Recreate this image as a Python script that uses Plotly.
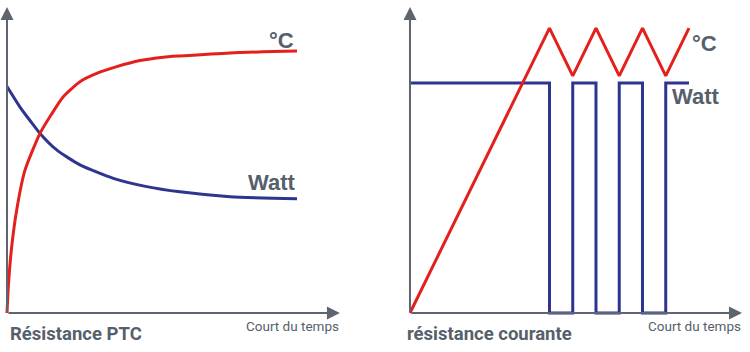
import plotly.graph_objects as go

# ---- data ----
# Left panel: PTC resistance
ptc_time_temp = [0, 0.045, 0.162, 0.334, 0.62, 1.138, 1.483, 1.941, 2.517, 3.093, 3.783, 4.586, 5.39, 5.966, 7.69, 10]
ptc_temp = [0, 8.6, 21.7, 33.7, 46.7, 58.7, 64.2, 70.7, 75.6, 78.3, 80.5, 82.5, 83.6, 84.0, 85.0, 85.6]
ptc_time_watt = [0, 0.448, 0.793, 1.138, 1.714, 2.517, 3.666, 4.817, 5.966, 7.69, 10]
ptc_watt = [74.0, 67.3, 62.9, 58.7, 53.3, 48.4, 44.0, 41.3, 39.6, 38.0, 37.3]

# Right panel: standard resistance
std_time_temp = [0, 6, 7, 8, 9, 10, 11, 12]
std_temp = [0, 93.1, 77.5, 93.1, 77.5, 93.1, 77.5, 93.1]
std_time_watt = [0, 6, 7, 8, 9, 10, 11, 12]
std_watt = [75.2, 0, 75.2, 0, 75.2, 0, 75.2, 75.2]

left_axis_end = [11.48, 100]
right_axis_end = [14.28, 100]

RED = "#e3201b"
BLUE = "#2e3590"
GREY = "#5e656e"
TXT = "#56606a"
COND = "Roboto, Liberation Sans, sans-serif"
BOLD = "Liberation Sans, Arial, sans-serif"

fig = go.Figure()
fig.add_trace(go.Scatter(x=ptc_time_watt, y=ptc_watt, mode="lines", line=dict(color=BLUE, width=3, shape="spline", smoothing=0.6), xaxis="x", yaxis="y", hoverinfo="skip"))
fig.add_trace(go.Scatter(x=ptc_time_temp, y=ptc_temp, mode="lines", line=dict(color=RED, width=3, shape="spline", smoothing=0.6), xaxis="x", yaxis="y", hoverinfo="skip"))
fig.add_trace(go.Scatter(x=std_time_watt, y=std_watt, mode="lines", line=dict(color=BLUE, width=3, shape="hv"), xaxis="x2", yaxis="y2", hoverinfo="skip"))
fig.add_trace(go.Scatter(x=std_time_temp, y=std_temp, mode="lines", line=dict(color=RED, width=3), xaxis="x2", yaxis="y2", hoverinfo="skip"))

ax_common = dict(visible=False, fixedrange=True)
fig.update_layout(
    width=750, height=352,
    margin=dict(l=0, r=0, t=0, b=0),
    paper_bgcolor="white", plot_bgcolor="rgba(0,0,0,0)",
    showlegend=False,
    xaxis=dict(domain=[0, 0.5], range=[-0.2414, 12.69], **ax_common),
    yaxis=dict(domain=[0, 1], range=[-12.745, 102.29], **ax_common),
    xaxis2=dict(domain=[0.5, 1], range=[-1.505, 14.624], anchor="y2", **ax_common),
    yaxis2=dict(domain=[0, 1], range=[-12.745, 102.29], anchor="x2", **ax_common),
)

annotations = []
# axis arrows
for xr, yr, end in (("x", "y", left_axis_end), ("x2", "y2", right_axis_end)):
    annotations.append(dict(x=end[0], y=0, ax=0, ay=0, xref=xr, yref=yr, axref=xr, ayref=yr,
                            text="", showarrow=True, arrowhead=2, arrowsize=1.3, arrowwidth=2, arrowcolor=GREY))
    annotations.append(dict(x=0, y=end[1], ax=0, ay=0, xref=xr, yref=yr, axref=xr, ayref=yr,
                            text="", showarrow=True, arrowhead=2, arrowsize=1.3, arrowwidth=2, arrowcolor=GREY))

def lab(text, x, y, xref, yref, xanchor, size, family, bold=True):
    t = f"<b>{text}</b>" if bold else text
    return dict(text=t, x=x, y=y, xref=xref, yref=yref, xanchor=xanchor, yanchor="middle",
                showarrow=False, font=dict(size=size, family=family, color=TXT))

annotations += [
    lab("°C", 9.95, 89.2, "x", "y", "right", 22, BOLD),
    lab("Watt", 10.05, 42.5, "x", "y", "right", 22, BOLD),
    lab("°C", 12.05, 88.2, "x2", "y2", "left", 22, BOLD),
    lab("Watt", 11.2, 70.6, "x2", "y2", "left", 22, BOLD),
    lab("Court du temps", 341 / 750, (352 - 326) / 352, "paper", "paper", "right", 13.5, COND, bold=False),
    lab("Court du temps", 743 / 750, (352 - 326) / 352, "paper", "paper", "right", 13.5, COND, bold=False),
    lab("Résistance PTC", 8 / 750, (352 - 334) / 352, "paper", "paper", "left", 18.5, COND),
    lab("résistance courante", 405 / 750, (352 - 334) / 352, "paper", "paper", "left", 18.5, COND),
]
fig.update_layout(annotations=annotations)

fig.write_html("out.html", config={"displayModeBar": False})
